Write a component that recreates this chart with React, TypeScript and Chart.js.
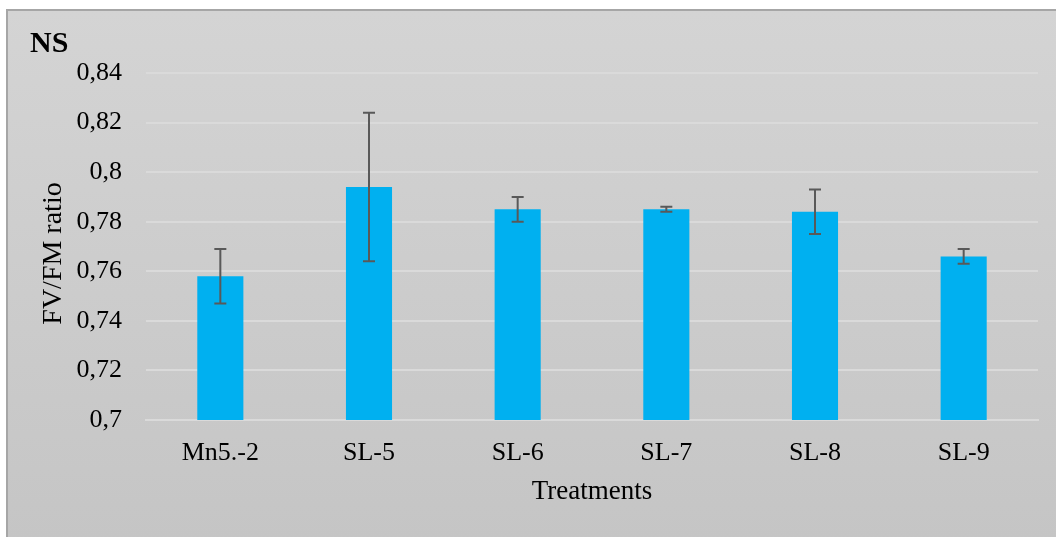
import React, { useEffect, useRef } from "react";
import { Chart, registerables } from "chart.js";

Chart.register(...registerables);

const categories: string[] = ["Mn5.-2", "SL-5", "SL-6", "SL-7", "SL-8", "SL-9"];
const values: number[] = [0.758, 0.794, 0.785, 0.785, 0.784, 0.766];
const errors: number[] = [0.011, 0.03, 0.005, 0.001, 0.009, 0.003];
const yMin = 0.7;
const yMax = 0.84;
const yStep = 0.02;
const chartTitle = "NS";
const xTitle = "Treatments";
const yTitle = "FV/FM ratio  ";

const FONT = "'Liberation Serif', 'Times New Roman', serif";

const errorBarPlugin = {
  id: "errorBars",
  afterDatasetsDraw(chart: any) {
    const meta = chart.getDatasetMeta(0);
    const yScale = chart.scales.y;
    const ctx = chart.ctx;
    ctx.save();
    ctx.strokeStyle = "#595959";
    ctx.lineWidth = 2;
    meta.data.forEach((bar: any, i: number) => {
      const v = values[i];
      const e = errors[i];
      const x = bar.x;
      const yt = yScale.getPixelForValue(v + e);
      const yb = yScale.getPixelForValue(v - e);
      const cap = 6;
      ctx.beginPath();
      ctx.moveTo(x, yt);
      ctx.lineTo(x, yb);
      ctx.moveTo(x - cap, yt);
      ctx.lineTo(x + cap, yt);
      ctx.moveTo(x - cap, yb);
      ctx.lineTo(x + cap, yb);
      ctx.stroke();
    });
    ctx.restore();
  },
};

export default function App() {
  const ref = useRef<HTMLCanvasElement | null>(null);

  useEffect(() => {
    document.body.style.margin = "0";
    document.body.style.overflow = "hidden";
    if (!ref.current) return;
    const chart = new Chart(ref.current, {
      type: "bar",
      data: {
        labels: categories,
        datasets: [
          {
            data: values,
            backgroundColor: "#00B0F0",
            borderWidth: 0,
            barPercentage: 0.31,
            categoryPercentage: 1,
          },
        ],
      },
      options: {
        responsive: false,
        animation: false,
        layout: { padding: { left: 30, right: 18, top: 0, bottom: 0 } },
        plugins: {
          legend: { display: false },
          tooltip: { enabled: false },
          title: {
            display: true,
            text: chartTitle,
            align: "start",
            color: "#000",
            font: { family: FONT, size: 30, weight: "bold" },
            padding: { top: 26, bottom: 11 },
          },
        },
        scales: {
          x: {
            afterFit: (s: any) => {
              s.height = 117;
            },
            grid: { display: false, drawTicks: false },
            border: { display: true, color: "#dadada", width: 2 },
            ticks: {
              color: "#000",
              padding: 18,
              font: { family: FONT, size: 26 },
            },
            title: {
              display: true,
              text: xTitle,
              color: "#000",
              font: { family: FONT, size: 27 },
              padding: { top: 0, bottom: 29 },
            },
          },
          y: {
            min: yMin,
            max: yMax,
            afterFit: (s: any) => {
              s.width = 116;
            },
            grid: { color: "#dadada", lineWidth: 2, drawTicks: false },
            border: { display: false },
            ticks: {
              stepSize: yStep,
              color: "#000",
              padding: 24,
              font: { family: FONT, size: 26 },
              callback: (v: any) => String(Number(Number(v).toFixed(2))).replace(".", ","),
            },
            title: {
              display: true,
              text: yTitle,
              color: "#000",
              font: { family: FONT, size: 28 },
              padding: { top: 7, bottom: 0 },
            },
          },
        },
      },
      plugins: [errorBarPlugin],
    });
    return () => chart.destroy();
  }, []);

  return (
    <div style={{ position: "relative", width: 1056, height: 537, overflow: "hidden" }}>
      <div
        style={{
          position: "absolute",
          left: 6,
          top: 9,
          width: 1100,
          height: 600,
          border: "2px solid #a6a6a6",
          background: "linear-gradient(180deg, #d4d4d4 0%, #c3c3c3 100%)",
        }}
      />
      <canvas ref={ref} width={1056} height={537} style={{ position: "absolute", left: 0, top: 0 }} />
    </div>
  );
}
